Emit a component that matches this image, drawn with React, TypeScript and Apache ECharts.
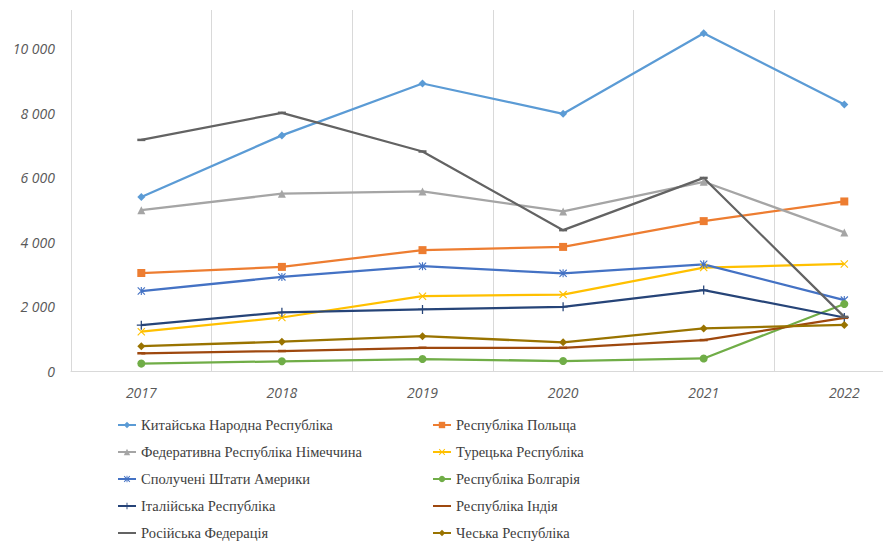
import React, { useEffect, useRef } from "react";
import * as echarts from "echarts";

const years = ["2017", "2018", "2019", "2020", "2021", "2022"];

const china = [5400, 7310, 8920, 7980, 10480, 8270];
const poland = [3040, 3230, 3750, 3850, 4650, 5260];
const germany = [4990, 5500, 5570, 4950, 5870, 4300];
const turkey = [1220, 1660, 2320, 2370, 3210, 3320];
const usa = [2480, 2920, 3250, 3030, 3310, 2200];
const bulgaria = [230, 300, 370, 310, 390, 2080];
const italy = [1420, 1820, 1910, 1990, 2510, 1660];
const india = [550, 620, 720, 720, 960, 1650];
const russia = [7170, 8010, 6810, 4370, 5990, 1680];
const czech = [770, 910, 1080, 890, 1320, 1430];

const names = {
  china: "Китайська Народна Республіка",
  poland: "Республіка Польща",
  germany: "Федеративна Республіка Німеччина",
  turkey: "Турецька Республіка",
  usa: "Сполучені Штати Америки",
  bulgaria: "Республіка Болгарія",
  italy: "Італійська Республіка",
  india: "Республіка Індія",
  russia: "Російська Федерація",
  czech: "Чеська Республіка",
};

const SYM_X = "path://M1,0L10,9L9,10L0,1Z M9,0L10,1L1,10L0,9Z";
const SYM_AST = "path://M1,0L10,9L9,10L0,1Z M9,0L10,1L1,10L0,9Z M4.3,0H5.7V10H4.3Z";
const SYM_PLUS = "path://M4.3,0H5.7V4.3H10V5.7H5.7V10H4.3V5.7H0V4.3H4.3Z";
const SYM_DASH = "path://M0,0H10V2.5H0Z";

function fmt(v: number): string {
  if (v > 10000) return "";
  return String(v).replace(/\B(?=(\d{3})+(?!\d))/g, " ");
}

export default function App() {
  const ref = useRef<HTMLDivElement>(null);
  useEffect(() => {
    if (!ref.current) return;
    const chart = echarts.init(ref.current, null, { renderer: "svg" });
    const mk = (name: string, data: number[], color: string, symbol: string, size: any) => ({
      name,
      type: "line",
      data,
      symbol,
      symbolSize: size,
      showSymbol: true,
      lineStyle: { color, width: 2.25 },
      itemStyle: { color, borderWidth: 0 },
      emphasis: { disabled: true },
    });
    const legendCommon = {
      orient: "vertical",
      itemWidth: 18,
      itemHeight: 8,
      itemGap: 11,
      top: 417,
      height: 160,
      padding: 0,
      selectedMode: false,
      textStyle: {
        fontFamily: "Liberation Serif",
        fontSize: 14.5,
        lineHeight: 16,
        color: "#404040",
      },
    };
    const hidden = { itemStyle: { opacity: 0 } };
    chart.setOption({
      animation: false,
      backgroundColor: "#ffffff",
      grid: { left: 71, top: 10, width: 843.6, height: 361, containLabel: false },
      xAxis: {
        type: "category",
        data: years,
        boundaryGap: true,
        axisLine: { lineStyle: { color: "#D9D9D9", width: 1 } },
        axisTick: { show: false },
        splitLine: { show: true, lineStyle: { color: "#D9D9D9", width: 1 } },
        axisLabel: {
          margin: 14,
          fontFamily: "Open Sans",
          fontStyle: "italic",
          fontSize: 14,
          color: "#595959",
        },
      },
      yAxis: {
        type: "value",
        min: 0,
        max: 11200,
        interval: 2000,
        axisLine: { show: false },
        axisTick: { show: false },
        splitLine: { show: false },
        axisLabel: {
          margin: 16,
          fontFamily: "Open Sans",
          fontStyle: "italic",
          fontSize: 14,
          color: "#595959",
          formatter: (v: number) => fmt(v),
        },
      },
      legend: [
        {
          ...legendCommon,
          left: 117,
          data: [
            names.china,
            names.germany,
            names.usa,
            names.italy,
            { name: names.russia, ...hidden },
          ],
        },
        {
          ...legendCommon,
          left: 432,
          data: [
            names.poland,
            names.turkey,
            names.bulgaria,
            { name: names.india, ...hidden },
            names.czech,
          ],
        },
      ],
      series: [
        mk(names.china, china, "#5B9BD5", "diamond", 8),
        mk(names.poland, poland, "#ED7D31", "rect", 8),
        mk(names.germany, germany, "#A5A5A5", "triangle", 8),
        mk(names.turkey, turkey, "#FFC000", SYM_X, 8),
        mk(names.usa, usa, "#4472C4", SYM_AST, 8),
        mk(names.bulgaria, bulgaria, "#70AD47", "circle", 8),
        mk(names.italy, italy, "#264478", SYM_PLUS, 9),
        mk(names.india, india, "#9E480E", SYM_DASH, [8, 2.5]),
        mk(names.russia, russia, "#636363", SYM_DASH, [8, 2.5]),
        mk(names.czech, czech, "#997300", "diamond", 8),
      ],
    });
    return () => chart.dispose();
  }, []);
  return (
    <div
      style={{
        position: "fixed",
        left: 0,
        top: 0,
        width: 883,
        height: 542,
        overflow: "hidden",
        background: "#fff",
      }}
    >
      <div ref={ref} style={{ width: 930, height: 600 }} />
    </div>
  );
}
